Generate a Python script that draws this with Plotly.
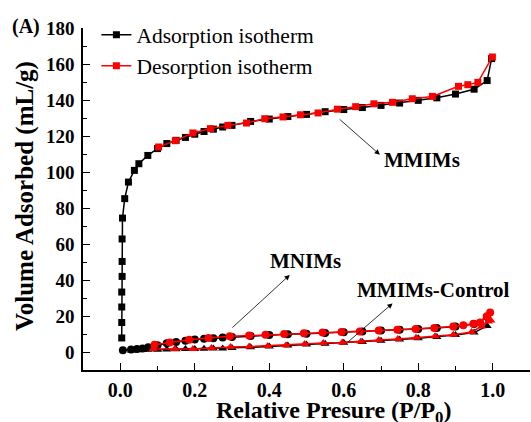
import plotly.graph_objects as go

# ---------------- data ----------------
# MMIMs adsorption (black squares)
mmims_ads_x = [0.004, 0.004, 0.004, 0.004, 0.005, 0.005, 0.005, 0.006, 0.012, 0.022, 0.038, 0.05, 0.074,
               0.1, 0.125, 0.15, 0.175, 0.2, 0.225, 0.25, 0.275, 0.3, 0.35, 0.4, 0.45, 0.5, 0.55, 0.6,
               0.65, 0.7, 0.75, 0.8, 0.85, 0.9, 0.95, 0.985, 0.997]
mmims_ads_y = [7.8, 16.4, 25.0, 33.3, 42.0, 50.3, 62.8, 74.4, 85.2, 94.4, 100.9, 104.6, 109.2,
               113.0, 115.8, 117.6, 119.2, 121.0, 122.5, 123.8, 125.0, 125.9, 128.1, 129.4, 130.8, 132.0, 133.5, 134.7,
               135.8, 137.0, 138.3, 139.8, 141.2, 143.3, 146.0, 150.8, 163.0]
# MMIMs desorption (red squares)
mmims_des_x = [0.999, 0.96, 0.933, 0.908, 0.838, 0.784, 0.731, 0.681, 0.632, 0.583, 0.531, 0.484, 0.437,
               0.388, 0.339, 0.289, 0.242, 0.195, 0.148, 0.103]
mmims_des_y = [163.9, 149.8, 148.5, 147.6, 142.0, 140.7, 138.7, 137.9, 136.3, 134.9, 132.8, 131.8, 130.6,
               129.6, 127.2, 125.9, 124.1, 121.7, 117.4, 113.9]

# MNIMs adsorption (black circles)
mnims_ads_x = [0.007, 0.029, 0.045, 0.06, 0.075, 0.1, 0.125, 0.15, 0.175, 0.2, 0.225, 0.25, 0.275, 0.3,
               0.35, 0.4, 0.45, 0.5, 0.55, 0.6, 0.65, 0.7, 0.75, 0.8, 0.85, 0.9, 0.95, 0.985]
mnims_ads_y = [1.0, 1.4, 1.7, 1.9, 2.6, 3.8, 4.8, 5.6, 6.3, 6.9, 7.3, 7.7, 8.0, 8.3,
               8.9, 9.4, 9.8, 10.2, 10.6, 11.0, 11.4, 11.9, 12.3, 12.8, 13.4, 14.1, 15.5, 19.5]
# MNIMs desorption (red circles)
mnims_des_x = [0.993, 0.984, 0.966, 0.948, 0.921, 0.894, 0.843, 0.793, 0.744, 0.694, 0.643, 0.594, 0.543,
               0.493, 0.44, 0.39, 0.346, 0.294, 0.237, 0.185, 0.133, 0.092]
mnims_des_y = [22.0, 19.8, 16.4, 15.7, 14.8, 14.2, 13.3, 12.8, 12.4, 12.0, 11.4, 11.1, 10.9,
               10.4, 10.0, 9.6, 9.2, 8.7, 7.8, 6.8, 5.3, 4.0]

# MMIMs-Control adsorption (black triangles)
ctrl_ads_x = [0.03, 0.045, 0.06, 0.075, 0.1, 0.125, 0.15, 0.175, 0.2, 0.225, 0.25, 0.275, 0.3,
              0.35, 0.4, 0.45, 0.5, 0.55, 0.6, 0.65, 0.7, 0.75, 0.8, 0.85, 0.9, 0.95, 0.985]
ctrl_ads_y = [0.8, 1.0, 1.1, 1.2, 1.3, 1.4, 1.5, 1.6, 1.7, 1.8, 1.9, 2.0, 2.2,
              2.6, 3.1, 3.6, 4.1, 4.6, 5.1, 5.6, 6.3, 6.9, 7.6, 8.4, 9.4, 10.8, 14.5]
# MMIMs-Control desorption (red triangles)
ctrl_des_x = [0.995, 0.988, 0.97, 0.943, 0.894, 0.845, 0.794, 0.745, 0.694, 0.646, 0.596, 0.545, 0.495,
              0.445, 0.396, 0.346, 0.296, 0.245, 0.195, 0.146, 0.088]
ctrl_des_y = [17.5, 17.0, 14.2, 11.1, 9.6, 8.7, 7.9, 7.2, 6.7, 5.9, 5.3, 5.0, 4.4,
              3.8, 3.3, 3.0, 2.8, 2.2, 1.7, 1.7, 1.7]

legend_names = ["Adsorption isotherm", "Desorption isotherm"]
x_tick_vals = [0.0, 0.2, 0.4, 0.6, 0.8, 1.0]
x_tick_text = ["0.0", "0.2", "0.4", "0.6", "0.8", "1.0"]
y_tick_vals = [0, 20, 40, 60, 80, 100, 120, 140, 160, 180]

# ---------------- figure ----------------
SERIF = "Liberation Serif"
BLACK = "#000000"
RED = "#ff0000"

fig = go.Figure()


def add(x, y, color, symbol, name=None, show=False, size=7):
    fig.add_trace(go.Scatter(
        x=x, y=y, mode="lines+markers", name=name, showlegend=show,
        line=dict(color=color, width=1.5),
        marker=dict(color=color, symbol=symbol, size=size, line=dict(width=0)),
    ))


# adsorption (black) first, desorption (red) on top
add(ctrl_ads_x, ctrl_ads_y, BLACK, "triangle-up", size=8)
add(mnims_ads_x, mnims_ads_y, BLACK, "circle", size=8)
add(mmims_ads_x, mmims_ads_y, BLACK, "square", name=legend_names[0], show=True)
add(ctrl_des_x, ctrl_des_y, RED, "triangle-up", size=8)
add(mnims_des_x, mnims_des_y, RED, "circle", size=8)
add(mmims_des_x, mmims_des_y, RED, "square", name=legend_names[1], show=True)

arrows = [
    dict(x=0.697, y=109.6, ax=0.585, ay=130.0),
    dict(x=0.455, y=42.8, ax=0.297, ay=12.8),
    dict(x=0.731, y=27.0, ax=0.607, ay=4.8),
]
annots = []
for a in arrows:
    annots.append(dict(x=a["x"], y=a["y"], ax=a["ax"], ay=a["ay"], xref="x", yref="y",
                       axref="x", ayref="y", text="", showarrow=True, arrowhead=2,
                       arrowsize=1.3, arrowwidth=0.8, arrowcolor=BLACK, standoff=0,
                       startstandoff=0))
label_font = dict(family=SERIF, size=21, color=BLACK, weight="bold")
title_font = dict(family=SERIF, size=24, color=BLACK, weight="bold")
annots += [
    dict(x=0.811, y=106.6, xref="x", yref="y", text="MMIMs", showarrow=False, font=label_font),
    dict(x=0.498, y=50.7, xref="x", yref="y", text="MNIMs", showarrow=False, font=label_font),
    dict(x=0.842, y=34.6, xref="x", yref="y", text="MMIMs-Control", showarrow=False, font=label_font),
    dict(x=-0.128, y=1.004, xref="paper", yref="paper", text="(A)", showarrow=False,
         xanchor="center", yanchor="middle", font=dict(family=SERIF, size=20, color=BLACK, weight="bold")),
    dict(x=0.56, y=-0.124, xref="paper", yref="paper", text="Relative Presure (P/P<sub>0</sub>)",
         showarrow=False, xanchor="center", yanchor="middle", font=title_font),
    dict(x=-0.131, y=0.51, xref="paper", yref="paper", text="Volume Adsorbed (mL/g)",
         showarrow=False, textangle=-90, xanchor="center", yanchor="middle",
         font=dict(family=SERIF, size=25, color=BLACK, weight="bold")),
]

fig.update_layout(
    width=531, height=422,
    margin=dict(l=83, r=1, t=28, b=52),
    paper_bgcolor="white", plot_bgcolor="white",
    showlegend=True,
    legend=dict(x=0.03, y=1.04, xanchor="left", yanchor="top",
                font=dict(family=SERIF, size=21.5, color=BLACK),
                bgcolor="rgba(0,0,0,0)", borderwidth=0, tracegroupgap=0),
    annotations=annots,
)
fig.update_xaxes(
    range=[-0.1, 1.1], showgrid=False, zeroline=False,
    showline=True, linecolor=BLACK, linewidth=1.5,
    tickmode="array", tickvals=x_tick_vals, ticktext=x_tick_text,
    ticks="inside", ticklen=7, tickwidth=1.2, tickcolor=BLACK,
    minor=dict(dtick=0.1, tick0=0, ticks="inside", ticklen=4, tickwidth=1.2, tickcolor=BLACK),
    tickfont=dict(family=SERIF, size=20, color=BLACK, weight="bold"),
    ticklabelstandoff=1,
)
fig.update_yaxes(
    range=[-10, 180], showgrid=False, zeroline=False,
    showline=True, linecolor=BLACK, linewidth=1.5,
    tickmode="array", tickvals=y_tick_vals,
    ticks="inside", ticklen=7, tickwidth=1.2, tickcolor=BLACK,
    minor=dict(dtick=10, tick0=0, ticks="inside", ticklen=4, tickwidth=1.2, tickcolor=BLACK),
    tickfont=dict(family=SERIF, size=19, color=BLACK, weight="bold"),
    ticklabelstandoff=3,
)

fig.write_html("out.html", config={"displayModeBar": False},
               post_script="document.body.style.margin='0px';document.body.style.overflow='hidden';")
